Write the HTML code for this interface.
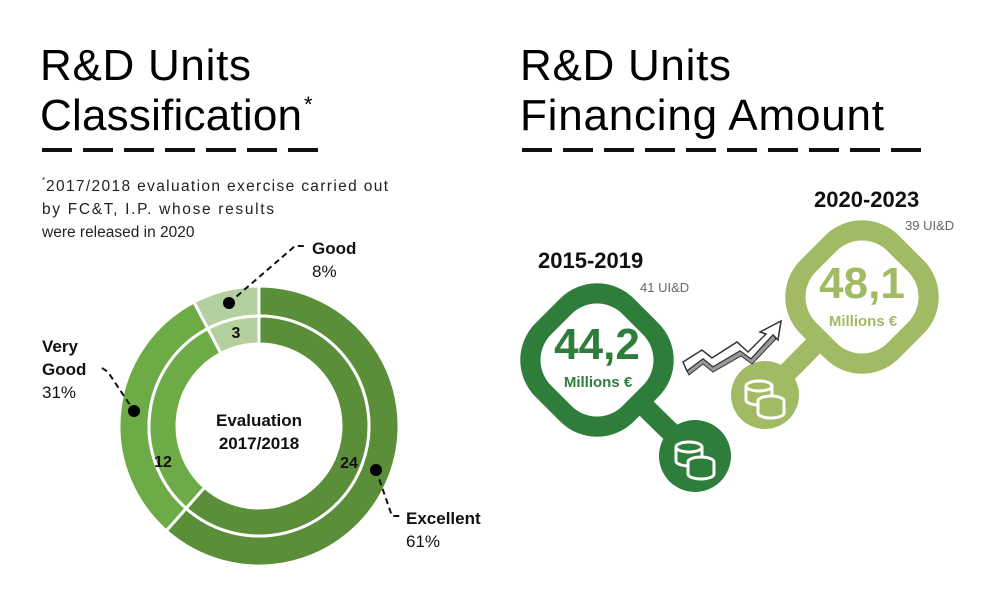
<!DOCTYPE html>
<html><head><meta charset="utf-8"><style>
html,body{margin:0;padding:0;background:#fff;}
body{width:1000px;height:598px;overflow:hidden;position:relative;font-family:"Liberation Sans",sans-serif;}
svg{position:absolute;left:0;top:0;}
</style></head><body>
<svg width="1000" height="598" viewBox="0 0 1000 598" xmlns="http://www.w3.org/2000/svg" font-family="Liberation Sans, sans-serif">
<text x="40" y="80" font-size="44" fill="#000" textLength="211">R&amp;D Units</text>
<text x="40" y="130" font-size="44" fill="#000" textLength="262">Classification</text>
<text x="304" y="112" font-size="22" fill="#000">*</text>
<line x1="42" y1="150" x2="320" y2="150" stroke="#111" stroke-width="4" stroke-dasharray="30 11"/>
<text x="520" y="80" font-size="44" fill="#000" textLength="211">R&amp;D Units</text>
<text x="520" y="130" font-size="44" fill="#000" textLength="364">Financing Amount</text>
<line x1="522" y1="150" x2="925" y2="150" stroke="#111" stroke-width="4" stroke-dasharray="30 11"/>
<text x="42" y="183" font-size="8" fill="#222">*</text>
<text x="46" y="191" font-size="15.5" fill="#222" textLength="342" lengthAdjust="spacing">2017/2018 evaluation exercise carried out</text>
<text x="42" y="214" font-size="15.5" fill="#222" textLength="232" lengthAdjust="spacing">by FC&amp;T, I.P. whose results</text>
<text x="42" y="237" font-size="15.5" fill="#222">were released in 2020</text>
<g id="donut"></g>
<text x="259" y="426" font-size="17" font-weight="bold" text-anchor="middle" fill="#111">Evaluation</text>
<text x="259" y="449" font-size="17" font-weight="bold" text-anchor="middle" fill="#111">2017/2018</text>
<text x="236" y="338" font-size="16" font-weight="bold" text-anchor="middle" fill="#111">3</text>
<text x="163" y="467" font-size="16" font-weight="bold" text-anchor="middle" fill="#111">12</text>
<text x="349" y="468" font-size="16" font-weight="bold" text-anchor="middle" fill="#111">24</text>
<g stroke="#111" stroke-width="2" stroke-dasharray="6 4" fill="none">
<polyline points="229,303 295,246 306,246"/>
<polyline points="102,368 108,372 134,411"/>
<polyline points="376,470 392,516 402,516"/>
</g>
<circle cx="229" cy="303" r="6" fill="#000"/>
<circle cx="134" cy="411" r="6" fill="#000"/>
<circle cx="376" cy="470" r="6" fill="#000"/>
<text x="312" y="254" font-size="17" font-weight="bold" fill="#111">Good</text>
<text x="312" y="277" font-size="17" fill="#111">8%</text>
<text x="42" y="352" font-size="17" font-weight="bold" fill="#111">Very</text>
<text x="42" y="375" font-size="17" font-weight="bold" fill="#111">Good</text>
<text x="42" y="398" font-size="17" fill="#111">31%</text>
<text x="406" y="524" font-size="17" font-weight="bold" fill="#111">Excellent</text>
<text x="406" y="547" font-size="17" fill="#111">61%</text>

<g fill="#2f7d3b">
<line x1="597" y1="360" x2="695" y2="456" stroke="#2f7d3b" stroke-width="20"/>
<rect x="527.5" y="290.5" width="139" height="139" rx="52" transform="rotate(45 597 360)"/>
<circle cx="695" cy="456" r="36"/>
</g>
<rect x="546.5" y="309.5" width="101" height="101" rx="36" fill="#fff" transform="rotate(45 597 360)"/>
<g fill="#a1bb64">
<line x1="862" y1="297" x2="765" y2="395" stroke="#a1bb64" stroke-width="20"/>
<rect x="792.5" y="227.5" width="139" height="139" rx="52" transform="rotate(45 862 297)"/>
<circle cx="765" cy="395" r="34"/>
</g>
<rect x="811.5" y="246.5" width="101" height="101" rx="36" fill="#fff" transform="rotate(45 862 297)"/>
<g fill="none" stroke="#fff" stroke-width="3">
<ellipse cx="689" cy="447" rx="13" ry="5"/>
<path d="M676 447 v14 a13 5 0 0 0 26 0 v-14"/>
<ellipse cx="701" cy="462" rx="13" ry="5" fill="#2f7d3b"/>
<path d="M688 462 v12 a13 5 0 0 0 26 0 v-12" fill="#2f7d3b"/>
<ellipse cx="759" cy="386" rx="13" ry="5"/>
<path d="M746 386 v14 a13 5 0 0 0 26 0 v-14"/>
<ellipse cx="771" cy="401" rx="13" ry="5" fill="#a1bb64"/>
<path d="M758 401 v12 a13 5 0 0 0 26 0 v-12" fill="#a1bb64"/>
</g>
<polygon points="683,362 702,350 712,358 737,342 748,352 766,334 760,332 781,321 778,340 773,335 751,359 740,351 713,367 703,359 687,371" fill="#fff" stroke="#333" stroke-width="1.5"/>
<polygon points="687,371 703,359 713,367 740,351 751,359 773,335 776,339 752,364 741,356 713,372 703,364 689,375" fill="#999" stroke="#333" stroke-width="1"/>

<text x="538" y="268" font-size="22" font-weight="bold" fill="#111">2015-2019</text>
<text x="640" y="292" font-size="13" fill="#666">41 UI&amp;D</text>
<text x="597" y="359" font-size="44" font-weight="bold" fill="#2f7d3b" text-anchor="middle">44,2</text>
<text x="598" y="387" font-size="15" font-weight="bold" fill="#2f7d3b" text-anchor="middle">Millions €</text>
<text x="814" y="207" font-size="22" font-weight="bold" fill="#111">2020-2023</text>
<text x="905" y="230" font-size="13" fill="#666">39 UI&amp;D</text>
<text x="862" y="298" font-size="44" font-weight="bold" fill="#a1bb64" text-anchor="middle">48,1</text>
<text x="863" y="326" font-size="15" font-weight="bold" fill="#a1bb64" text-anchor="middle">Millions €</text>
</svg>
<script>
(function(){
var cx=259,cy=426,g=document.getElementById('donut');
function pt(r,a){a=a*Math.PI/180;return [cx+r*Math.sin(a),cy-r*Math.cos(a)];}
function sec(r0,r1,a0,a1,col){
 var l=(a1-a0)>180?1:0,p1=pt(r1,a0),p2=pt(r1,a1),p3=pt(r0,a1),p4=pt(r0,a0);
 var d='M'+p1+' A'+r1+' '+r1+' 0 '+l+' 1 '+p2+' L'+p3+' A'+r0+' '+r0+' 0 '+l+' 0 '+p4+' Z';
 var e=document.createElementNS('http://www.w3.org/2000/svg','path');
 e.setAttribute('d',d);e.setAttribute('fill',col);e.setAttribute('stroke','#fff');e.setAttribute('stroke-width','3');g.appendChild(e);}
var segs=[[0,221.5,'#5a8e38'],[221.5,332.3,'#6dab46'],[332.3,360,'#b4d09f']];
segs.forEach(function(s){sec(110,140,s[0],s[1],s[2]);sec(82,110,s[0],s[1],s[2]);});
})();
</script>
</body></html>
